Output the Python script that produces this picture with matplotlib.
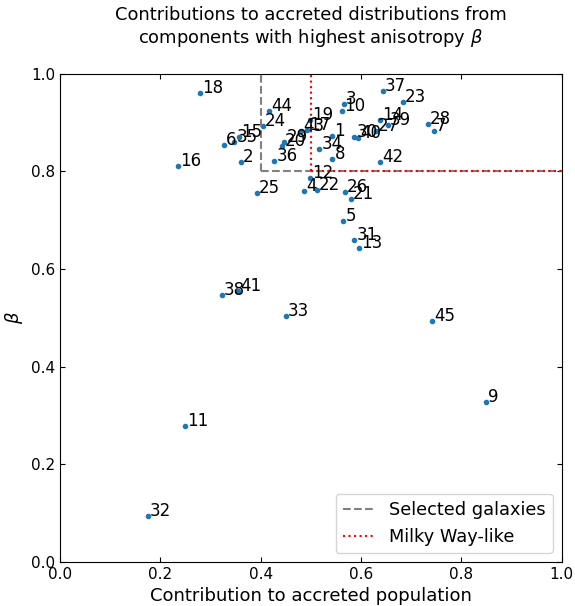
import numpy as np
import matplotlib
matplotlib.use('Agg')
import matplotlib.pyplot as plt

# Galaxy ids, contribution to accreted population and anisotropy beta
ids = [18, 44, 24, 6, 35, 15, 2, 16, 36, 29, 20, 43, 17, 19,
       12, 4, 22, 25, 26, 21, 5, 31, 13, 1, 34, 8, 3, 10, 30, 40,
       42, 37, 23, 14, 27, 39, 28, 7, 45, 9, 11, 32, 33, 38, 41]
contrib = [0.279, 0.417, 0.405, 0.327, 0.348, 0.357, 0.361, 0.235, 0.427, 0.447, 0.443, 0.480, 0.493, 0.498,
           0.498, 0.487, 0.512, 0.392, 0.568, 0.580, 0.565, 0.587, 0.597, 0.543, 0.517, 0.543, 0.566, 0.563, 0.587, 0.595,
           0.638, 0.644, 0.683, 0.638, 0.630, 0.654, 0.733, 0.745, 0.742, 0.849, 0.249, 0.175, 0.450, 0.323, 0.355]
beta = [0.961, 0.923, 0.894, 0.855, 0.860, 0.871, 0.820, 0.811, 0.821, 0.860, 0.852, 0.882, 0.885, 0.906,
        0.786, 0.761, 0.762, 0.755, 0.757, 0.744, 0.699, 0.659, 0.644, 0.873, 0.846, 0.826, 0.938, 0.924, 0.870, 0.869,
        0.820, 0.964, 0.943, 0.906, 0.882, 0.895, 0.897, 0.884, 0.493, 0.327, 0.278, 0.094, 0.503, 0.547, 0.555]

# Selection boxes
sel_x, sel_y = 0.4, 0.8
mw_x, mw_y = 0.5, 0.8

fig, ax = plt.subplots(figsize=(5.75, 6.06), dpi=100)
fig.subplots_adjust(left=0.104, right=0.977, top=0.878, bottom=0.073)

ax.scatter(contrib, beta, s=9, color='#1f77b4', zorder=1)
for i, x, y in zip(ids, contrib, beta):
    ax.annotate(str(i), (x, y), xytext=(1.5, 0), textcoords='offset points', fontsize=12)

ax.plot([sel_x, sel_x], [sel_y, 1.0], ls='--', color='grey', label='Selected galaxies')
ax.plot([sel_x, 1.0], [sel_y, sel_y], ls='--', color='grey')
ax.plot([mw_x, mw_x], [mw_y, 1.0], ls=':', color='red', label='Milky Way-like')
ax.plot([mw_x, 1.0], [mw_y, mw_y], ls=':', color='red')

ax.set_xlim(0, 1)
ax.set_ylim(0, 1)
ax.tick_params(direction='in', top=True, right=True, labelsize=11)
ax.set_xlabel('Contribution to accreted population', fontsize=13)
ax.set_ylabel(r'$\beta$', fontsize=13)
ax.set_title('Contributions to accreted distributions from\ncomponents with highest anisotropy $\\beta$',
             fontsize=12.9, pad=22)
ax.legend(loc='lower right', fontsize=12.8, handlelength=1.8)

plt.savefig('out.png', dpi=100)
